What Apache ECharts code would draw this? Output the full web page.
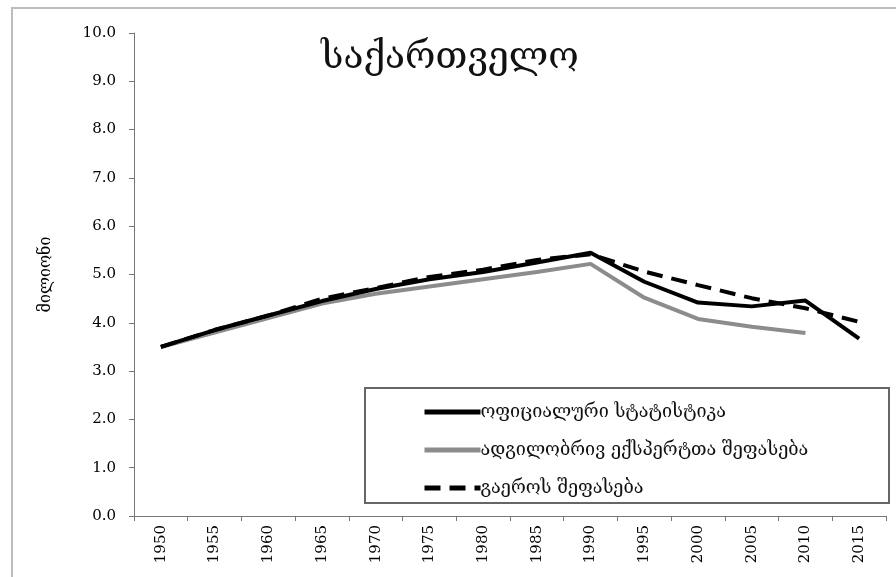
<!DOCTYPE html>
<html>
<head>
<meta charset="utf-8">
<script src="https://cdn.jsdelivr.net/npm/echarts@6/dist/echarts.min.js"></script>
<style>
  html, body { margin: 0; padding: 0; background: #fff; }
  #chart { width: 896px; height: 577px; }
</style>
</head>
<body>
<div id="chart"></div>
<script>
// წლები (x ღერძი)
const years = ['1950', '1955', '1960', '1965', '1970', '1975', '1980', '1985', '1990', '1995', '2000', '2005', '2010', '2015'];
// ოფიციალური სტატისტიკა
const official = [3.5, 3.85, 4.15, 4.45, 4.7, 4.9, 5.05, 5.25, 5.45, 4.85, 4.42, 4.34, 4.46, 3.67];
// ადგილობრივ ექსპერტთა შეფასება (2015 არ არის)
const experts = [3.5, 3.8, 4.1, 4.4, 4.6, 4.75, 4.9, 5.05, 5.22, 4.52, 4.08, 3.92, 3.79, null];
// გაეროს შეფასება
const unEstimate = [3.5, 3.85, 4.15, 4.5, 4.72, 4.95, 5.1, 5.3, 5.42, 5.06, 4.78, 4.51, 4.3, 4.02];

const seriesNames = ['ოფიციალური სტატისტიკა', 'ადგილობრივ ექსპერტთა შეფასება', 'გაეროს შეფასება'];

const geoFont = 'DejaVu Serif';
const numFont = 'DejaVu Serif';

let myChart = echarts.init(document.getElementById('chart'));

myChart.setOption({
  animation: false,
  backgroundColor: '#fff',
  title: {
    text: 'საქართველო',
    left: 316,
    top: 35,
    textStyle: { fontFamily: geoFont, fontSize: 37, fontWeight: 'normal', color: '#111' }
  },
  graphic: [
    // გარე ჩარჩო (მარჯვენა და ქვედა კიდე კადრს გარეთაა)
    { type: 'rect', shape: { x: 12, y: 8, width: 900, height: 600 }, style: { fill: 'none', stroke: '#bdbdbd', lineWidth: 2 }, silent: true },
    // ლეგენდის ჩარჩო
    { type: 'rect', shape: { x: 365, y: 388, width: 524, height: 115 }, style: { fill: '#fff', stroke: '#666', lineWidth: 2 }, z: 10, silent: true }
  ],
  legend: {
    orient: 'vertical',
    left: 417,
    top: 398,
    itemWidth: 56,
    itemHeight: 16,
    itemGap: 20,
    z: 20,
    itemStyle: { opacity: 0 },
    lineStyle: { width: 5 },
    textStyle: { fontFamily: geoFont, fontSize: 18, color: '#111', padding: [0, 0, 0, -5] },
    data: seriesNames
  },
  grid: { left: 134, right: 10, top: 33, bottom: 61 },
  xAxis: {
    type: 'category',
    data: years,
    boundaryGap: true,
    axisLine: { lineStyle: { color: '#777', width: 1 } },
    axisTick: { show: true, length: 5, lineStyle: { color: '#777' } },
    axisLabel: { rotate: 90, fontFamily: numFont, fontSize: 15, color: '#000', margin: 9 }
  },
  yAxis: {
    type: 'value',
    min: 0,
    max: 10,
    interval: 1,
    name: 'მილიონი',
    nameLocation: 'middle',
    nameGap: 80,
    nameRotate: 90,
    nameTextStyle: { fontFamily: geoFont, fontSize: 16, color: '#000' },
    axisLine: { show: true, lineStyle: { color: '#777', width: 1 } },
    axisTick: { show: true, length: 5, lineStyle: { color: '#777' } },
    splitLine: { show: false },
    axisLabel: {
      fontFamily: numFont, fontSize: 15, color: '#000', margin: 18,
      formatter: v => v.toFixed(1)
    }
  },
  series: [
    {
      name: seriesNames[0], type: 'line', data: official, symbol: 'none',
      lineStyle: { color: '#000', width: 4 }, itemStyle: { color: '#000' }, z: 4
    },
    {
      name: seriesNames[1], type: 'line', data: experts, symbol: 'none',
      lineStyle: { color: '#8c8c8c', width: 4 }, itemStyle: { color: '#8c8c8c' }, z: 3
    },
    {
      name: seriesNames[2], type: 'line', data: unEstimate, symbol: 'none',
      lineStyle: { color: '#000', width: 4, type: [16, 9] }, itemStyle: { color: '#000' }, z: 5
    }
  ]
});
</script>
</body>
</html>
